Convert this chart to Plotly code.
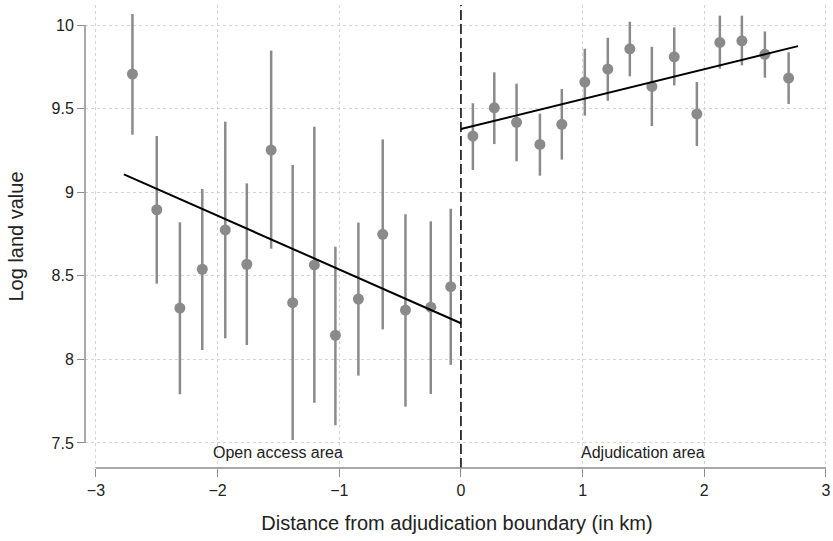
import plotly.graph_objects as go
import numpy as np

# Open access side (left of boundary)
left_x = [-2.70, -2.50, -2.31, -2.126, -1.937, -1.76, -1.56, -1.383, -1.205, -1.032, -0.843, -0.643, -0.456, -0.248, -0.084]
left_y = [9.707, 8.895, 8.307, 8.539, 8.774, 8.569, 9.252, 8.339, 8.565, 8.144, 8.361, 8.748, 8.295, 8.312, 8.435]
left_hi = [10.066, 9.336, 8.82, 9.019, 9.422, 9.053, 9.847, 9.163, 9.392, 8.674, 8.818, 9.316, 8.868, 8.826, 8.901]
left_lo = [9.344, 8.453, 7.791, 8.056, 8.126, 8.086, 8.662, 7.518, 7.741, 7.606, 7.903, 8.18, 7.717, 7.793, 7.967]

# Adjudication side (right of boundary)
right_x = [0.098, 0.274, 0.457, 0.649, 0.829, 1.018, 1.207, 1.388, 1.569, 1.753, 1.939, 2.128, 2.309, 2.498, 2.693]
right_y = [9.336, 9.505, 9.418, 9.286, 9.406, 9.659, 9.737, 9.858, 9.633, 9.81, 9.468, 9.896, 9.906, 9.825, 9.683]
right_hi = [9.532, 9.717, 9.649, 9.47, 9.617, 9.858, 9.924, 10.02, 9.870, 9.986, 9.659, 10.056, 10.056, 9.962, 9.837]
right_lo = [9.133, 9.288, 9.185, 9.099, 9.195, 9.458, 9.547, 9.693, 9.396, 9.639, 9.276, 9.739, 9.759, 9.685, 9.528]

# Linear fits on each side
fit_left_x = [-2.77, 0.0]
fit_left_y = [9.107, 8.216]
fit_right_x = [0.0, 2.77]
fit_right_y = [9.378, 9.874]

x_ticks = [-3, -2, -1, 0, 1, 2, 3]
x_tick_text = ["\u22123", "\u22122", "\u22121", "0", "1", "2", "3"]
y_ticks = [7.5, 8, 8.5, 9, 9.5, 10]
y_tick_text = ["7.5", "8", "8.5", "9", "9.5", "10"]

GRAY = "#8a8a8a"
FONT = "Liberation Sans, Arial, sans-serif"

fig = go.Figure()

for xs, ys, hi, lo in [(left_x, left_y, left_hi, left_lo), (right_x, right_y, right_hi, right_lo)]:
    ys_a = np.array(ys)
    fig.add_trace(go.Scatter(
        x=xs, y=ys, mode="markers",
        marker=dict(color=GRAY, size=11, line=dict(width=0)),
        error_y=dict(type="data", symmetric=False,
                     array=list(np.array(hi) - ys_a),
                     arrayminus=list(ys_a - np.array(lo)),
                     color=GRAY, thickness=2.5, width=0),
        showlegend=False, hoverinfo="skip"))

for fx, fy in [(fit_left_x, fit_left_y), (fit_right_x, fit_right_y)]:
    fig.add_trace(go.Scatter(x=fx, y=fy, mode="lines",
                             line=dict(color="black", width=2),
                             showlegend=False, hoverinfo="skip"))

# boundary dashed line
fig.add_shape(type="line", xref="x", yref="paper", x0=0, x1=0, y0=0, y1=1,
              line=dict(color="black", width=1.5, dash="10px,4px"))
# axis lines (Stata-style, detached)
fig.add_shape(type="line", xref="paper", yref="y", x0=0, x1=0, y0=7.5, y1=10,
              line=dict(color="#8c8c8c", width=1.5))
fig.add_shape(type="line", xref="x", yref="paper", x0=-3, x1=3, y0=0, y1=0,
              line=dict(color="#8c8c8c", width=1.5))

fig.add_annotation(x=-1.5, y=7.44, text="Open access area", showarrow=False,
                   font=dict(family=FONT, size=16, color="#222"))
fig.add_annotation(x=1.5, y=7.44, text="Adjudication area", showarrow=False,
                   font=dict(family=FONT, size=16, color="#222"))

fig.update_layout(
    width=833, height=541,
    margin=dict(l=85, r=4, t=5, b=73),
    paper_bgcolor="white", plot_bgcolor="white",
    font=dict(family=FONT, size=16, color="#222"),
    xaxis=dict(range=[-3.09, 3.025], tickvals=x_ticks, ticktext=x_tick_text,
               automargin=False,
               ticks="outside", ticklen=8, tickcolor="#8c8c8c", tickwidth=1.2,
               showgrid=True, gridcolor="#d4d4d4", griddash="dot", gridwidth=1,
               zeroline=False, showline=False,
               tickfont=dict(size=16),
               title=dict(text="Distance from adjudication boundary (in km)", font=dict(size=20), standoff=17)),
    yaxis=dict(range=[7.35, 10.12], tickvals=y_ticks, ticktext=y_tick_text,
               automargin=False,
               ticks="outside", ticklen=7, tickcolor="#8c8c8c", tickwidth=1.2,
               showgrid=True, gridcolor="#d4d4d4", griddash="dot", gridwidth=1,
               zeroline=False, showline=False,
               tickfont=dict(size=16),
               title=dict(text="Log land value", font=dict(size=20), standoff=22)),
)

fig.write_html("out.html", config={"displayModeBar": False},
               post_script="document.body.style.margin='0';document.body.style.padding='0';")
